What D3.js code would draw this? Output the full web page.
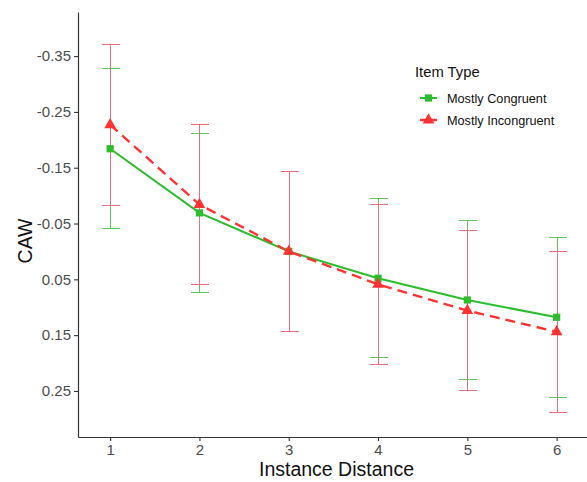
<!DOCTYPE html>
<html>
<head>
<meta charset="utf-8">
<script src="https://cdn.jsdelivr.net/npm/d3@7"></script>
<style>
  html, body { margin: 0; padding: 0; background: #fff; }
  svg { display: block; font-family: "Liberation Sans", Arial, sans-serif; }
</style>
</head>
<body>
<svg id="chart" width="587" height="482"></svg>
<script>
// Instance distances on the x axis
const distances = [1, 2, 3, 4, 5, 6];

// Series labels for the legend
const seriesNames = ["Mostly Congruent", "Mostly Incongruent"];

// Mean CAW per distance and the half-width of each error bar
const congruentMean = [-0.184, -0.069, 0.000, 0.048, 0.087, 0.118];
const congruentErr  = [0.143, 0.142, 0.143, 0.142, 0.142, 0.143];
const incongruentMean = [-0.227, -0.084, 0.000, 0.059, 0.106, 0.144];
const incongruentErr  = [0.144, 0.144, 0.143, 0.143, 0.144, 0.144];

// Tick values on the reversed y axis
const yTicks = [-0.35, -0.25, -0.15, -0.05, 0.05, 0.15, 0.25];
const yTickLabels = ["-0.35", "-0.25", "-0.15", "-0.05", "0.05", "0.15", "0.25"];

const series = [
  { name: seriesNames[0], mean: congruentMean, err: congruentErr,
    color: "#2cbc2c", barColor: "#5cc85c", dash: null, width: 2, shape: "square" },
  { name: seriesNames[1], mean: incongruentMean, err: incongruentErr,
    color: "#ff3333", barColor: "#e8707c", dash: "10,6", width: 2.4, shape: "triangle" }
];

const svg = d3.select("#chart");
const plotLeft = 78, plotRight = 587, plotTop = 12, plotBottom = 437;

const x = d3.scaleLinear().domain([0.64, 6.34]).range([plotLeft, plotRight]);
// Reversed: more negative values sit higher on the page
const y = d3.scaleLinear().domain([-0.429, 0.3325]).range([plotTop, plotBottom]);

const axisColor = "#333333";
const tickText = "#4d4d4d";

// Y axis
const yAxis = svg.append("g")
  .attr("transform", `translate(${plotLeft},0)`)
  .call(d3.axisLeft(y).tickValues(yTicks)
    .tickFormat((d, i) => yTickLabels[i]).tickSize(4).tickPadding(3).tickSizeOuter(0));
yAxis.select(".domain").attr("stroke", axisColor).attr("stroke-width", 1.2);
yAxis.selectAll(".tick line").attr("stroke", axisColor).attr("stroke-width", 1.1);
yAxis.selectAll(".tick text").attr("fill", tickText).attr("font-size", 15)
  .attr("font-family", "Liberation Sans, Arial, sans-serif");

// X axis
const xAxis = svg.append("g")
  .attr("transform", `translate(0,${plotBottom})`)
  .call(d3.axisBottom(x).tickValues(distances).tickFormat(d3.format("d"))
    .tickSize(4).tickPadding(3).tickSizeOuter(0));
xAxis.select(".domain").attr("stroke", axisColor).attr("stroke-width", 1.2);
xAxis.selectAll(".tick line").attr("stroke", axisColor).attr("stroke-width", 1.1);
xAxis.selectAll(".tick text").attr("fill", tickText).attr("font-size", 15)
  .attr("font-family", "Liberation Sans, Arial, sans-serif");

// Axis titles
svg.append("text")
  .attr("x", (plotLeft + plotRight) / 2 + 4).attr("y", 476)
  .attr("text-anchor", "middle").attr("font-size", 19.5).attr("fill", "#111")
  .text("Instance Distance");
svg.append("text")
  .attr("transform", "translate(32,241) rotate(-90)")
  .attr("text-anchor", "middle").attr("font-size", 19.5).attr("fill", "#111")
  .text("CAW");

const capHalf = 9;
const plot = svg.append("g");

// Error bars: crisp one-pixel strokes so the later series fully covers shared stems
series.forEach(s => {
  const g = plot.append("g").attr("stroke", s.barColor).attr("stroke-width", 1)
    .attr("shape-rendering", "crispEdges").attr("fill", "none");
  distances.forEach((d, i) => {
    const lo = y(s.mean[i] - s.err[i]), hi = y(s.mean[i] + s.err[i]);
    const cx = Math.round(x(d)) + 0.5;
    g.append("line").attr("x1", cx).attr("x2", cx).attr("y1", lo).attr("y2", hi);
    g.append("line").attr("x1", cx - capHalf).attr("x2", cx + capHalf).attr("y1", lo).attr("y2", lo);
    g.append("line").attr("x1", cx - capHalf).attr("x2", cx + capHalf).attr("y1", hi).attr("y2", hi);
  });
});

// Lines
const line = d3.line().x((d, i) => x(distances[i])).y(d => y(d));
series.forEach(s => {
  plot.append("path").datum(s.mean)
    .attr("d", line).attr("fill", "none")
    .attr("stroke", s.color).attr("stroke-width", s.width)
    .attr("stroke-dasharray", s.dash);
});

// Point symbols
const symSquare = d3.symbol().type(d3.symbolSquare).size(52);
const symTriangle = d3.symbol().type(d3.symbolTriangle).size(60);
function drawSymbol(g, s, cx, cy) {
  g.append("path")
    .attr("d", s.shape === "square" ? symSquare() : symTriangle())
    .attr("transform", `translate(${cx},${cy})`)
    .attr("fill", s.color);
}
series.forEach(s => {
  distances.forEach((d, i) => drawSymbol(plot, s, x(d), y(s.mean[i])));
});

// Legend
const legend = svg.append("g");
legend.append("text").attr("x", 415).attr("y", 77)
  .attr("font-size", 14.8).attr("fill", "#111").text("Item Type");
series.forEach((s, i) => {
  const ly = 98 + i * 22;
  legend.append("line").attr("x1", 420).attr("x2", 437).attr("y1", ly).attr("y2", ly)
    .attr("stroke", s.color).attr("stroke-width", s.width);
  drawSymbol(legend, s, 428.5, ly);
  legend.append("text").attr("x", 447).attr("y", ly + 4.5)
    .attr("font-size", 12.7).attr("fill", "#111").text(s.name);
});
</script>
</body>
</html>
